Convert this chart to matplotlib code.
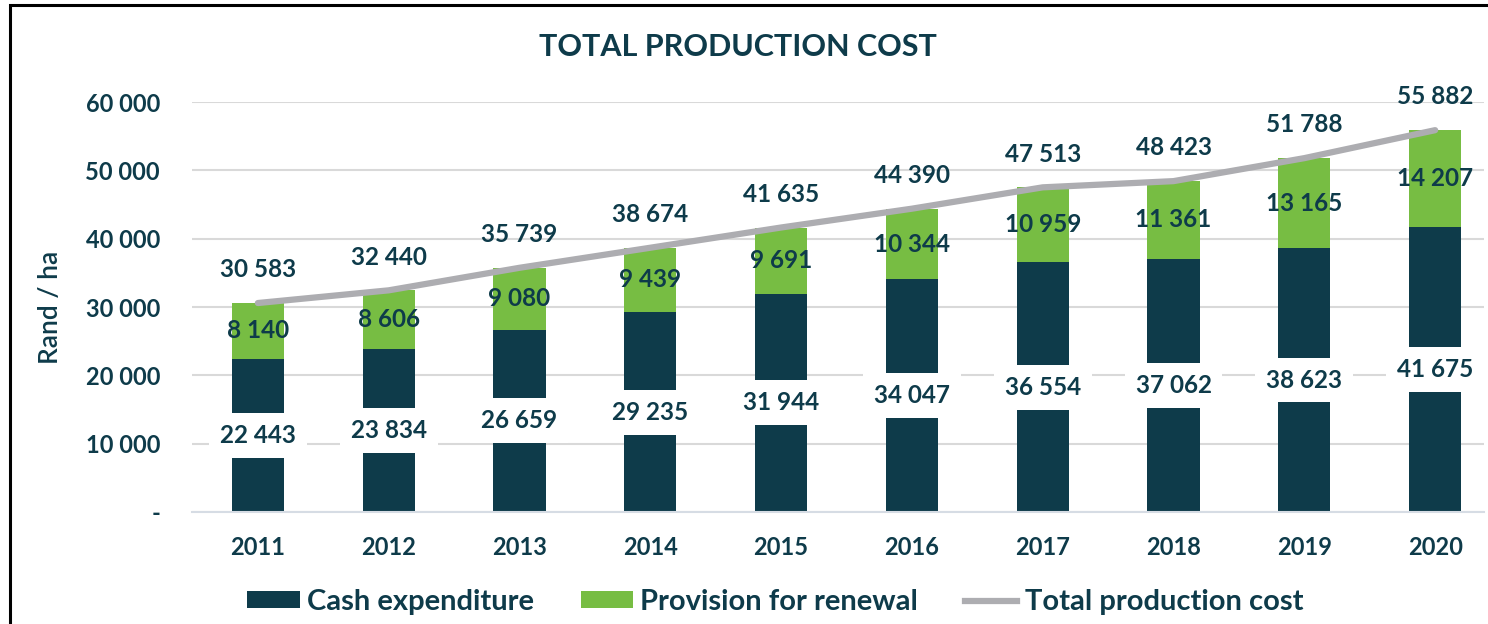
import numpy as np
import matplotlib
matplotlib.use("Agg")
import matplotlib.pyplot as plt
from matplotlib.patches import Patch, Rectangle
from matplotlib.lines import Line2D

# Data
years = ["2011", "2012", "2013", "2014", "2015", "2016", "2017", "2018", "2019", "2020"]
cash_expenditure = [22443, 23834, 26659, 29235, 31944, 34047, 36554, 37062, 38623, 41675]
provision_renewal = [8140, 8606, 9080, 9439, 9691, 10344, 10959, 11361, 13165, 14207]
total_cost = [30583, 32440, 35739, 38674, 41635, 44390, 47513, 48423, 51788, 55882]
y_ticks = [0, 10000, 20000, 30000, 40000, 50000, 60000]

DARK = "#0E3B4A"
GREEN = "#77BD43"
GREY = "#ADADB1"

plt.rcParams["font.family"] = ["Lato", "DejaVu Sans"]


def fmt(v):
    return f"{v:,}".replace(",", " ")


fig = plt.figure(figsize=(14.88, 6.24), dpi=100)
ax = fig.add_axes([0.129, 0.1795, 0.868, 0.657])

x = np.arange(len(years))
bar_w = 0.40

# Stacked bars
ax.bar(x, cash_expenditure, bar_w, color=DARK, zorder=2)
ax.bar(x, provision_renewal, bar_w, bottom=cash_expenditure, color=GREEN, zorder=2)

# Total line
ax.plot(x, total_cost, color=GREY, linewidth=4.5, solid_capstyle="round", zorder=3)

# Labels
for i in range(len(years)):
    ax.text(x[i], cash_expenditure[i] / 2, fmt(cash_expenditure[i]), ha="center", va="center",
            fontsize=17.5, fontweight="bold", color=DARK, zorder=4,
            bbox=dict(boxstyle="square,pad=0.45", facecolor="white", edgecolor="none"))
    ax.text(x[i], cash_expenditure[i] + provision_renewal[i] / 2, fmt(provision_renewal[i]),
            ha="center", va="center", fontsize=17.5, fontweight="bold", color=DARK, zorder=4)
    ax.annotate(fmt(total_cost[i]), (x[i], total_cost[i]), xytext=(0, 24),
                textcoords="offset points", ha="center", va="center",
                fontsize=17.5, fontweight="bold", color=DARK, zorder=4, annotation_clip=False)

# Axes styling
ax.set_xlim(-0.504, 9.37)
ax.set_ylim(0, 60000)
ax.set_yticks(y_ticks)
ax.set_yticklabels(["-"] + [fmt(v) for v in y_ticks[1:]])
ax.set_xticks(x)
ax.set_xticklabels(years)
ax.tick_params(axis="both", length=0, labelsize=17, labelcolor=DARK)
ax.tick_params(axis="x", pad=17)
ax.tick_params(axis="y", pad=23)
for lbl in ax.get_xticklabels() + ax.get_yticklabels():
    lbl.set_fontweight("bold")
ax.grid(axis="y", color="#D9D9D9", linewidth=1.5, zorder=0)
ax.set_axisbelow(True)
for s in ["top", "right", "left"]:
    ax.spines[s].set_visible(False)
ax.spines["bottom"].set_color("#D6DCE4")
ax.spines["bottom"].set_linewidth(1.5)

ax.set_ylabel("Rand / ha", fontsize=19, color=DARK, fontweight="semibold", labelpad=16)

# Title
fig.text(0.496, 0.925, "TOTAL PRODUCTION COST", ha="center", va="center",
         fontsize=22, fontweight="bold", color=DARK)

# Legend
handles = [
    Patch(facecolor=DARK, label="Cash expenditure"),
    Patch(facecolor=GREEN, label="Provision for renewal"),
    Line2D([0], [0], color=GREY, linewidth=4.5, label="Total production cost"),
]
leg = fig.legend(handles=handles, loc="center", bbox_to_anchor=(0.521, 0.035), ncol=3,
                 frameon=False, fontsize=21, handlelength=1.8, handleheight=0.5,
                 handletextpad=0.25, columnspacing=1.6)
for t in leg.get_texts():
    t.set_color(DARK)
    t.set_fontweight("bold")

# Frame
fig.patches.append(Rectangle((10 / 1488, -0.1), 2.0, 1.1 - 5 / 624, transform=fig.transFigure,
                             fill=False, edgecolor="black", linewidth=2.2, zorder=10))

fig.savefig("out.png", dpi=100)
